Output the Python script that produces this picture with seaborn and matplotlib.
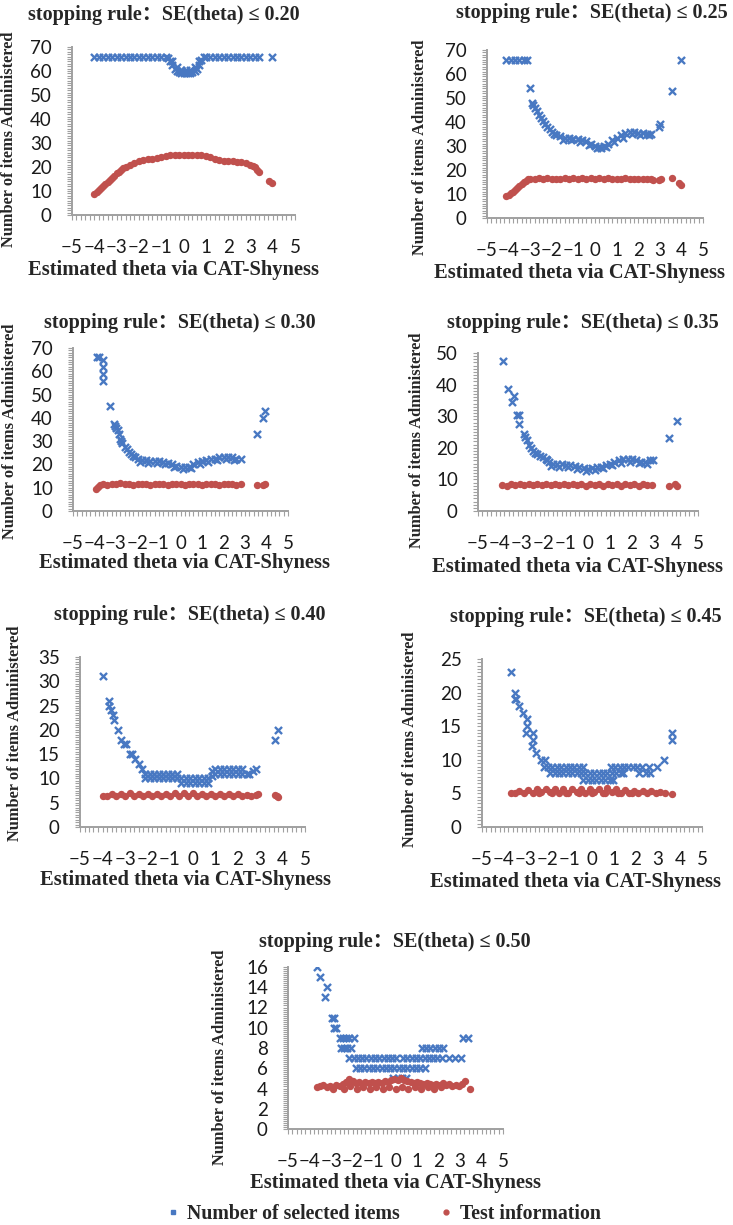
"""
Number of items administered and test information against the estimated theta,
one scatter panel per stopping rule of the CAT-Shyness simulation
"""

import matplotlib
matplotlib.use("Agg")
import matplotlib.pyplot as plt
from matplotlib.ticker import MultipleLocator
from matplotlib.lines import Line2D
import seaborn as sns
import pandas as pd

# Stopping rules (SE(theta) thresholds)
rules = ["0.20", "0.25", "0.30", "0.35", "0.40", "0.45", "0.50"]

# (theta, number of selected items)
items_020 = [(-4.0, 66), (-3.8, 66), (-3.6, 66), (-3.4, 66), (-3.2, 66), (-3.0, 66), (-2.8, 66), (-2.6, 66),
             (-2.4, 66), (-2.2, 66), (-2.0, 66), (-1.8, 66), (-1.6, 66), (-1.4, 66), (-1.2, 66), (-1.0, 66),
             (-0.8, 66), (-0.7, 65.5), (-0.6, 64), (-0.5, 62.5), (-0.4, 61), (-0.3, 60), (-0.2, 59.5),
             (-0.1, 59.3), (0.0, 59.3), (0.1, 59.3), (0.2, 59.3), (0.3, 59.3), (0.4, 59.5), (0.5, 60),
             (0.6, 61), (0.7, 62.5), (0.8, 64.5), (0.9, 66), (-0.5, 64), (-0.3, 61.5), (-0.1, 60.5),
             (0.1, 60.5), (0.3, 60.5), (0.5, 61.5), (0.7, 64), (1.0, 66), (1.2, 66), (1.4, 66), (1.6, 66),
             (1.8, 66), (2.0, 66), (2.2, 66), (2.4, 66), (2.6, 66), (2.8, 66), (3.0, 66), (3.2, 66),
             (3.4, 66), (3.95, 66)]
items_025 = [(-4.1, 66), (-3.9, 66), (-3.7, 66), (-3.5, 66), (-3.3, 66), (-3.15, 66), (-3.0, 54),
             (-2.9, 48), (-2.85, 47), (-2.8, 46), (-2.7, 44.5), (-2.6, 43), (-2.5, 41.5), (-2.4, 40.5),
             (-2.3, 39), (-2.2, 38), (-2.1, 37), (-2.0, 36), (-1.9, 35), (-1.8, 34.5), (-1.6, 34),
             (-1.4, 33.5), (-1.2, 33.5), (-1.0, 33), (-0.8, 33), (-0.6, 32.5), (-0.4, 32), (-0.2, 31),
             (0.0, 30), (0.2, 29.5), (0.4, 30), (0.6, 31), (0.8, 32.5), (1.0, 33.5), (1.2, 34.5),
             (1.4, 35.5), (1.6, 36), (1.8, 36), (2.0, 35.5), (2.2, 35.5), (2.4, 35), (2.6, 35),
             (-1.5, 32.5), (-1.1, 32.5), (-0.7, 31.5), (-0.3, 30.5), (0.1, 29), (0.3, 29), (0.5, 29.5),
             (0.9, 31.5), (1.3, 33.5), (1.7, 35), (2.1, 34.5), (2.5, 34.5),
             (2.95, 38), (3.0, 39), (3.55, 53), (4.0, 66)]
items_030 = [(-3.9, 66), (-3.8, 66), (-3.6, 65), (-3.6, 62), (-3.6, 59), (-3.6, 56), (-3.3, 45),
             (-3.1, 37.5), (-3.05, 36.5), (-3.0, 35.5), (-2.9, 35), (-2.85, 33), (-2.8, 31), (-2.75, 30),
             (-2.7, 29), (-2.6, 27.5), (-2.5, 26.5), (-2.4, 25.5), (-2.3, 24.5), (-2.2, 23.5), (-2.1, 23),
             (-2.0, 22.5), (-1.8, 22), (-1.6, 22), (-1.4, 21.5), (-1.2, 21.5), (-1.0, 21.5), (-0.8, 21),
             (-0.6, 20.5), (-0.4, 20), (-0.2, 19.5), (0.0, 19), (0.2, 18.8), (0.4, 19), (0.6, 20),
             (0.8, 21), (1.0, 21.5), (1.2, 22), (1.4, 22.5), (1.6, 22.5), (1.8, 23), (2.0, 23.3),
             (2.2, 23.3), (2.4, 23), (2.6, 22.5), (2.8, 22.5), (-1.9, 21), (-1.5, 20.8), (-1.1, 20.5),
             (-0.7, 20), (-0.3, 18.8), (0.1, 18), (0.5, 18.5), (0.9, 20), (1.3, 21.2), (1.7, 21.8),
             (2.1, 22.3), (2.5, 22), (3.55, 33), (3.85, 40), (3.95, 43)]
items_035 = [(-3.85, 47.5), (-3.65, 38.5), (-3.45, 34.5), (-3.38, 36.5), (-3.25, 30.5), (-3.15, 30.5),
             (-3.15, 27.5), (-2.9, 24.5), (-2.85, 23.5), (-2.78, 22.5), (-2.7, 21), (-2.6, 20), (-2.5, 19),
             (-2.4, 18.5), (-2.3, 18), (-2.16, 17.5), (-2.05, 17), (-1.93, 16.5), (-1.85, 16), (-1.78, 15.5),
             (-1.6, 15), (-1.4, 15), (-1.2, 15), (-1.0, 14.5), (-0.8, 14.5), (-0.6, 14.3), (-0.4, 14),
             (-0.2, 13.5), (0.0, 13.3), (0.2, 13.5), (0.4, 14), (0.6, 14), (0.8, 14.5), (1.0, 15),
             (1.2, 15.5), (1.4, 16), (1.6, 16.3), (1.8, 16.5), (2.0, 16.3), (2.2, 16), (2.4, 15.5),
             (2.6, 15.5), (2.8, 16), (2.95, 16), (-1.7, 14.3), (-1.3, 14), (-0.9, 13.8), (-0.5, 13.3),
             (-0.1, 12.8), (0.3, 13), (0.7, 13.5), (1.1, 14.5), (1.5, 15.3), (1.9, 15.5), (2.3, 15.3),
             (2.7, 15), (3.7, 23), (4.05, 28.5)]
items_040 = [(-4.0, 31), (-3.7, 26), (-3.7, 25), (-3.62, 24), (-3.55, 23), (-3.47, 22), (-3.32, 20),
             (-3.17, 18), (-3.05, 17), (-2.95, 17), (-2.8, 15), (-2.7, 15), (-2.55, 14), (-2.4, 13),
             (-2.25, 12), (-2.1, 11), (-1.9, 11), (-1.7, 11), (-1.5, 11), (-1.3, 11), (-1.1, 11), (-0.9, 11),
             (-0.7, 11), (-2.1, 10), (-1.9, 10), (-1.7, 10), (-1.5, 10), (-1.3, 10), (-1.1, 10), (-0.9, 10),
             (-0.7, 10), (-0.5, 10), (-0.3, 10), (-0.1, 10), (0.1, 10), (0.3, 10), (0.5, 10), (0.7, 10),
             (-0.5, 9), (-0.3, 9), (-0.1, 9), (0.1, 9), (0.3, 9), (0.5, 9), (0.7, 9), (0.85, 10.5),
             (0.85, 11.5), (1.0, 12), (1.2, 12), (1.4, 12), (1.6, 12), (1.8, 12), (2.0, 12), (2.2, 12),
             (1.0, 11), (1.2, 11), (1.4, 11), (1.6, 11), (1.8, 11), (2.0, 11), (2.2, 11), (2.4, 11),
             (2.5, 11), (2.7, 11.5), (2.8, 12), (3.65, 18), (3.78, 20)]
items_045 = [(-3.7, 23), (-3.5, 20), (-3.5, 19), (-3.45, 19), (-3.3, 18), (-3.15, 17), (-2.95, 16),
             (-2.95, 15), (-3.0, 14), (-2.7, 14), (-2.7, 13), (-2.75, 12), (-2.55, 11), (-2.3, 10),
             (-2.15, 10), (-2.2, 9), (-2.0, 9), (-1.8, 9), (-1.6, 9), (-1.4, 9), (-1.2, 9), (-1.0, 9),
             (-0.8, 9), (-0.6, 9), (-0.4, 9), (-1.9, 8), (-1.7, 8), (-1.5, 8), (-1.3, 8), (-1.1, 8),
             (-0.9, 8), (-0.7, 8), (-0.5, 8), (-0.3, 8), (-0.1, 8), (0.1, 8), (0.3, 8), (0.5, 8), (0.7, 8),
             (0.9, 8), (1.1, 8), (1.3, 8), (1.4, 8), (-0.4, 7), (-0.2, 7), (0.0, 7), (0.2, 7), (0.4, 7),
             (0.6, 7), (0.8, 7), (0.95, 7), (0.85, 9), (1.05, 9), (1.25, 9), (1.45, 9), (1.65, 9),
             (1.85, 9), (2.05, 9), (2.25, 9), (2.12, 8), (2.45, 8), (2.65, 8), (2.6, 9), (2.95, 9),
             (3.25, 10), (3.65, 14), (3.65, 13)]
items_050 = [(-3.65, 16), (-3.5, 15), (-3.3, 13), (-3.2, 14), (-2.95, 11), (-2.85, 11), (-2.85, 10),
             (-2.75, 10), (-2.6, 9), (-2.45, 9), (-2.3, 9), (-2.15, 9), (-1.95, 9), (-2.55, 8), (-2.4, 8),
             (-2.25, 8), (-2.05, 8), (-2.15, 7), (-1.95, 7), (-1.75, 7), (-1.55, 7), (-1.35, 7), (-1.15, 7),
             (-0.95, 7), (-0.75, 7), (-0.55, 7), (-0.35, 7), (-0.15, 7), (0.0, 7), (-1.85, 6), (-1.65, 6),
             (-1.45, 6), (-1.25, 6), (-1.05, 6), (-0.85, 6), (-0.65, 6), (-0.45, 6), (-0.25, 6), (-0.05, 6),
             (0.15, 6), (0.35, 6), (0.55, 6), (0.75, 6), (0.95, 6), (1.15, 6), (1.35, 6), (-0.1, 5),
             (0.1, 5), (0.3, 5), (0.5, 5), (0.35, 7), (0.55, 7), (0.75, 7), (0.95, 7), (1.15, 7), (1.35, 7),
             (1.55, 7), (1.75, 7), (1.95, 7), (2.15, 7), (2.5, 7), (2.75, 7), (3.05, 7), (1.25, 8),
             (1.4, 8), (1.6, 8), (1.85, 8), (2.0, 8), (2.2, 8), (3.15, 9), (3.35, 9)]

# (theta, test information)
info_020 = [(-4.0, 8.7), (-3.9, 9.5), (-3.8, 10.3), (-3.7, 11.2), (-3.6, 12.0), (-3.5, 12.9), (-3.4, 13.8),
            (-3.3, 14.7), (-3.2, 15.6), (-3.1, 16.4), (-3.0, 17.3), (-2.9, 18.1), (-2.8, 18.8), (-2.7, 19.4),
            (-2.6, 20.0), (-2.4, 21.0), (-2.2, 21.8), (-2.0, 22.3), (-1.8, 22.8), (-1.6, 23.2), (-1.4, 23.5),
            (-1.2, 23.8), (-1.0, 24.2), (-0.8, 24.5), (-0.6, 24.8), (-0.4, 25.0), (-0.2, 25.1), (0.0, 25.1),
            (0.2, 25.1), (0.4, 25.0), (0.6, 25.0), (0.8, 24.8), (1.0, 24.5), (1.2, 24.0), (1.4, 23.5),
            (1.6, 23.0), (1.8, 22.7), (2.0, 22.5), (2.2, 22.3), (2.4, 22.2), (2.6, 22.0), (2.8, 21.5),
            (3.0, 20.8), (3.1, 20.3), (3.2, 19.8), (3.3, 18.8), (3.4, 17.8), (3.85, 14.2), (3.95, 13.2)]
info_025 = [(-4.1, 9.0), (-4.0, 9.6), (-3.9, 10.3), (-3.8, 11.0), (-3.7, 11.8), (-3.6, 12.5), (-3.5, 13.3),
            (-3.4, 14.0), (-3.3, 14.8), (-3.2, 15.5), (-3.1, 16.1), (-3.0, 16.3), (-2.8, 16.2), (-2.6, 16.5),
            (-2.4, 16.2), (-2.2, 16.5), (-2.0, 16.2), (-1.8, 16.4), (-1.6, 16.2), (-1.4, 16.5), (-1.2, 16.2),
            (-1.0, 16.5), (-0.8, 16.3), (-0.6, 16.5), (-0.4, 16.2), (-0.2, 16.5), (0.0, 16.3), (0.2, 16.5),
            (0.4, 16.2), (0.6, 16.5), (0.8, 16.3), (1.0, 16.4), (1.2, 16.2), (1.4, 16.5), (1.6, 16.2),
            (1.8, 16.4), (2.0, 16.2), (2.2, 16.4), (2.4, 16.2), (2.6, 16.3), (2.7, 16.0), (2.95, 16.0),
            (3.05, 16.2), (3.55, 16.6), (3.9, 14.6), (4.0, 13.6)]
info_030 = [(-3.95, 9.5), (-3.85, 10.3), (-3.75, 11.0), (-3.6, 11.5), (-3.4, 11.3), (-3.2, 11.8),
            (-3.0, 11.4), (-2.8, 11.9), (-2.6, 11.4), (-2.4, 11.8), (-2.2, 11.3), (-2.0, 11.8), (-1.8, 11.4),
            (-1.6, 11.8), (-1.4, 11.3), (-1.2, 11.8), (-1.0, 11.4), (-0.8, 11.8), (-0.6, 11.3), (-0.4, 11.8),
            (-0.2, 11.4), (0.0, 11.8), (0.2, 11.3), (0.4, 11.8), (0.6, 11.4), (0.8, 11.8), (1.0, 11.3),
            (1.2, 11.8), (1.4, 11.4), (1.6, 11.8), (1.8, 11.3), (2.0, 11.7), (2.2, 11.4), (2.4, 11.8),
            (2.6, 11.3), (2.8, 11.4), (3.55, 11.3), (3.85, 11.3), (3.95, 11.7)]
info_035 = [(-3.9, 8.2), (-3.7, 8.0), (-3.5, 8.5), (-3.3, 8.1), (-3.1, 8.6), (-2.9, 8.1), (-2.7, 8.7),
            (-2.5, 8.2), (-2.3, 8.6), (-2.1, 8.1), (-1.9, 8.6), (-1.7, 8.1), (-1.5, 8.6), (-1.3, 8.1),
            (-1.1, 8.6), (-0.9, 8.1), (-0.7, 8.7), (-0.5, 8.1), (-0.3, 8.6), (-0.1, 8.0), (0.1, 8.6),
            (0.3, 8.1), (0.5, 8.6), (0.7, 8.0), (0.9, 8.5), (1.1, 8.1), (1.3, 8.5), (1.5, 8.0), (1.7, 8.4),
            (1.9, 8.1), (2.1, 8.4), (2.3, 8.0), (2.5, 8.4), (2.7, 8.1), (2.9, 8.2), (3.7, 8.0), (3.95, 8.4),
            (4.05, 8.0)]
info_040 = [(-4.0, 6.4), (-3.8, 6.3), (-3.6, 6.7), (-3.4, 6.3), (-3.2, 6.8), (-3.0, 6.4), (-2.8, 6.9),
            (-2.6, 6.4), (-2.4, 6.8), (-2.2, 6.3), (-2.0, 6.8), (-1.8, 6.4), (-1.6, 6.8), (-1.4, 6.3),
            (-1.2, 6.8), (-1.0, 6.4), (-0.8, 6.9), (-0.6, 6.4), (-0.4, 6.9), (-0.2, 6.4), (0.0, 6.9),
            (0.2, 6.4), (0.4, 6.8), (0.6, 6.3), (0.8, 6.8), (1.0, 6.4), (1.2, 6.7), (1.4, 6.3), (1.6, 6.7),
            (1.8, 6.3), (2.0, 6.7), (2.2, 6.3), (2.4, 6.6), (2.6, 6.3), (2.8, 6.6), (2.9, 6.8), (3.65, 6.5),
            (3.75, 6.3), (3.8, 6.2)]
info_045 = [(-3.7, 5.1), (-3.5, 5.0), (-3.3, 5.3), (-3.1, 5.0), (-2.9, 5.5), (-2.7, 5.1), (-2.5, 5.6),
            (-2.3, 5.2), (-2.1, 5.7), (-1.9, 5.2), (-1.7, 5.6), (-1.5, 5.1), (-1.3, 5.6), (-1.1, 5.1),
            (-0.9, 5.7), (-0.7, 5.2), (-0.5, 5.7), (-0.3, 5.1), (-0.1, 5.7), (0.1, 5.2), (0.3, 5.7),
            (0.5, 5.1), (0.7, 5.8), (0.9, 5.2), (1.1, 5.6), (1.3, 5.1), (1.5, 5.5), (1.7, 5.1), (1.9, 5.4),
            (2.1, 5.0), (2.3, 5.3), (2.5, 5.0), (2.7, 5.4), (2.9, 5.0), (3.1, 5.2), (3.3, 5.0), (3.65, 4.9),
            (-2.4, 5.0), (-1.8, 5.0), (-1.2, 5.0), (-0.6, 5.0), (0.0, 5.0), (0.6, 5.0), (1.2, 5.0), (1.8, 5.0)]
info_050 = [(-3.65, 4.1), (-3.5, 4.2), (-3.35, 4.3), (-3.2, 4.1), (-3.05, 4.2), (-2.9, 4.0), (-2.75, 4.3),
            (-2.6, 4.2), (-2.45, 4.4), (-2.3, 4.6), (-2.15, 4.9), (-2.0, 4.7), (-1.85, 4.5), (-1.7, 4.6),
            (-1.55, 4.4), (-1.4, 4.6), (-1.25, 4.5), (-1.1, 4.6), (-0.95, 4.5), (-0.8, 4.6), (-0.65, 4.5),
            (-0.5, 4.7), (-0.35, 4.6), (-0.2, 4.8), (-0.05, 4.9), (0.1, 4.8), (0.25, 5.0), (0.4, 4.8),
            (0.55, 4.7), (0.7, 4.6), (0.85, 4.5), (1.0, 4.6), (1.15, 4.5), (1.3, 4.4), (1.45, 4.5),
            (1.6, 4.4), (1.75, 4.3), (1.9, 4.4), (2.05, 4.3), (2.2, 4.5), (2.35, 4.3), (2.5, 4.4),
            (2.65, 4.2), (2.8, 4.3), (2.95, 4.2), (3.1, 4.4), (3.25, 4.7), (3.45, 4.0),
            (-2.4, 4.0), (-2.1, 4.2), (-1.8, 4.0), (-1.5, 4.1), (-1.2, 4.0), (-0.9, 4.1), (-0.6, 4.0),
            (-0.3, 4.1), (0.0, 4.0), (0.3, 4.1), (0.6, 4.0), (0.9, 4.1), (1.2, 4.0), (1.5, 4.1),
            (1.8, 4.0), (2.1, 4.1)]

items_all = [items_020, items_025, items_030, items_035, items_040, items_045, items_050]
info_all = [info_020, info_025, info_030, info_035, info_040, info_045, info_050]

# y-axis maximum, major step and minor step of every panel
y_max = [70, 70, 70, 50, 35, 25, 16]
y_step = [10, 10, 10, 10, 5, 5, 2]
y_minor = [1, 1, 1, 1, 0.5, 0.5, 0.2]

# Layout in pixels: axes box (left, top, right, bottom), title, y label and x label centres
boxes = [(72, 47, 295, 215), (487, 50, 703, 218), (73, 348, 288, 511), (478, 353, 698, 511),
         (80, 657, 305, 827), (482, 659, 702, 827), (288, 967, 503, 1129)]
title_xy = [(164, 15), (592, 13), (180, 323), (583, 323), (190, 615), (586, 617), (395, 942)]
ylabel_xy = [(9, 139), (420, 147), (10, 431), (417, 440), (15, 733), (410, 739), (220, 1057)]
xlabel_xy = [(173, 270), (579, 273), (184, 563), (578, 567), (185, 880), (576, 882), (395, 1183)]

W, H = 733, 1225
BLUE = "#4878C2"
RED = "#C0504D"
AXIS_GREY = "#A0A0A0"
SERIF = ["Liberation Serif", "Noto Sans CJK SC", "DejaVu Serif"]

sns.set_style("white")
plt.rcParams["font.family"] = ["Lato", "DejaVu Sans"]

fig = plt.figure(figsize=(W / 100, H / 100), dpi=100)


def fx(px):
    return px / W


def fy(py):
    return 1 - py / H


for i, rule in enumerate(rules):
    left, top, right, bottom = boxes[i]
    ax = fig.add_axes([fx(left), fy(bottom), (right - left) / W, (bottom - top) / H])

    items_df = pd.DataFrame(items_all[i], columns=["theta", "items"])
    info_df = pd.DataFrame(info_all[i], columns=["theta", "info"])

    sns.scatterplot(data=items_df, x="theta", y="items", marker="x", color=BLUE, s=26,
                    linewidth=1.7, ax=ax, legend=False, zorder=3)
    sns.scatterplot(data=info_df, x="theta", y="info", marker="o", color=RED, s=28,
                    linewidth=0, ax=ax, legend=False, zorder=4)

    ax.set_xlim(-5, 5)
    ax.set_ylim(0, y_max[i])
    ax.xaxis.set_major_locator(MultipleLocator(1))
    ax.xaxis.set_minor_locator(MultipleLocator(0.2))
    ax.yaxis.set_major_locator(MultipleLocator(y_step[i]))
    ax.yaxis.set_minor_locator(MultipleLocator(y_minor[i]))
    ax.set_xlabel("")
    ax.set_ylabel("")

    # Excel-like grey axes with dense tick marks
    sns.despine(ax=ax)
    for side in ["left", "bottom"]:
        ax.spines[side].set_color(AXIS_GREY)
        ax.spines[side].set_linewidth(1.4)
    ax.tick_params(which="both", bottom=True, left=True, direction="out", color=AXIS_GREY,
                   width=0.8, length=3.5)
    ax.tick_params(axis="x", which="major", pad=14, labelsize=13.5, labelcolor="#1a1a1a")
    ax.tick_params(axis="y", which="major", pad=11, labelsize=13.5, labelcolor="#1a1a1a")
    ax.set_facecolor("none")

    tx, ty = title_xy[i]
    fig.text(fx(tx), fy(ty), f"stopping rule：SE(theta) ≤ {rule}", family=SERIF,
             fontweight="bold", fontsize=14.5, ha="center", va="center")
    lx, ly = ylabel_xy[i]
    fig.text(fx(lx), fy(ly), "Number of items Administered", family=SERIF, fontweight="bold",
             fontsize=11.8, rotation=90, ha="center", va="center")
    xx, xy = xlabel_xy[i]
    fig.text(fx(xx), fy(xy), "Estimated theta via CAT-Shyness", family=SERIF, fontweight="bold",
             fontsize=14.8, ha="center", va="center")

# Shared legend at the bottom
handles = [
    Line2D([], [], marker="s", linestyle="none", color=BLUE, markersize=3.5),
    Line2D([], [], marker="o", linestyle="none", color=RED, markersize=3.5),
]
fig.legend(handles, ["Number of selected items", "Test information"], loc="center",
           bbox_to_anchor=(fx(383), fy(1214)), ncol=2, frameon=False, columnspacing=1.9,
           handletextpad=0.3, handlelength=0.8, prop={"family": SERIF, "weight": "bold", "size": 14.3})

fig.savefig("out.png", dpi=100)
plt.close(fig)
